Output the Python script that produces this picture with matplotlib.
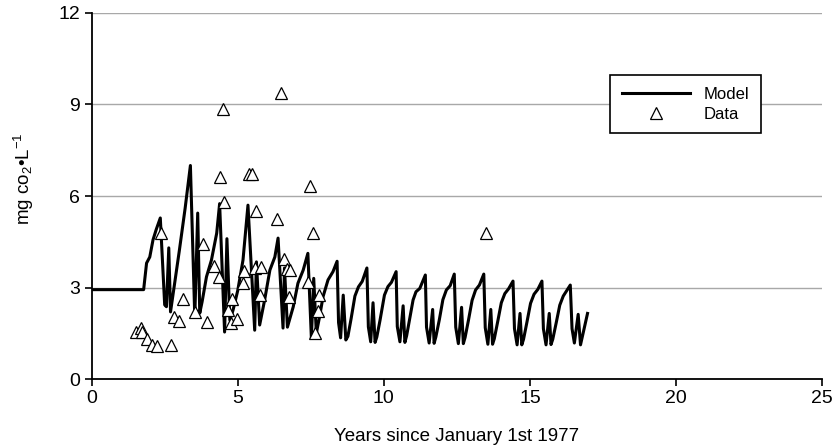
import matplotlib.pyplot as plt

plt.rcParams['font.family']=['Liberation Sans','DejaVu Sans']
plt.rcParams['mathtext.fontset']='custom'
plt.rcParams['mathtext.rm']='Liberation Sans'
plt.rcParams['mathtext.it']='Liberation Sans:italic'

# model curve
model_x=[0,1.78,1.88,1.99,2.10,2.21,2.35,2.44,2.50,2.56,2.64,2.70,3.00,3.20,3.38,3.53,3.63,3.70,3.78,3.93,4.10,4.28,4.38,
	4.55,4.63,4.73,4.84,5.00,5.18,5.35,5.58,5.64,5.75,5.92,6.10,6.27,6.38,6.55,6.60,6.70,6.90,7.06,7.24,7.40,
	7.52,7.60,7.69,7.80,7.92,8.09,8.26,8.40,8.45,8.52,8.61,8.70,8.77,8.88,9.01,9.13,9.26,9.42,
	9.47,9.55,9.63,9.70,9.76,9.87,10.02,10.14,10.26,10.42,10.46,10.55,10.66,10.72,10.78,10.89,11.00,11.10,11.23,11.42,
	11.46,11.55,11.67,11.72,11.78,11.90,12.02,12.14,12.27,12.41,12.46,12.55,12.66,12.72,12.78,12.90,13.02,13.14,13.27,13.42,
	13.47,13.56,13.66,13.72,13.78,13.90,14.02,14.14,14.27,14.42,14.47,14.56,14.66,14.72,14.78,14.90,15.02,15.14,15.27,15.41,
	15.46,15.55,15.66,15.72,15.78,15.90,16.02,16.14,16.26,16.38,16.44,16.52,16.65,16.73,16.97]
model_y=[2.93,2.93,3.80,4.00,4.56,4.90,5.28,3.57,2.43,2.37,4.30,2.20,4.20,5.60,7.00,2.03,5.44,2.16,2.53,3.35,3.90,4.78,5.75,
	1.54,4.60,1.93,2.26,2.90,3.90,5.70,1.60,3.84,1.77,2.59,3.57,4.00,4.62,1.67,3.64,1.70,2.37,3.14,3.57,4.12,
	1.34,3.30,1.50,2.04,2.70,3.25,3.52,3.86,1.85,1.35,2.75,1.28,1.40,1.98,2.72,3.02,3.20,3.64,
	1.71,1.22,2.50,1.20,1.38,1.93,2.75,3.03,3.17,3.52,1.72,1.22,2.40,1.20,1.42,2.00,2.59,2.86,2.97,3.41,
	1.70,1.18,2.28,1.17,1.38,1.95,2.60,2.92,3.06,3.44,1.70,1.16,2.35,1.16,1.36,1.95,2.58,2.92,3.08,3.44,
	1.68,1.14,2.28,1.14,1.32,1.90,2.50,2.80,2.96,3.21,1.65,1.12,2.15,1.12,1.30,1.88,2.48,2.78,2.94,3.21,
	1.65,1.12,2.15,1.13,1.30,1.85,2.42,2.72,2.90,3.08,1.65,1.18,2.12,1.12,2.15]

# measured data
data_x=[1.53,1.70,1.74,1.90,2.08,2.24,2.71,2.36,2.82,2.98,3.13,3.55,3.96,3.81,4.18,4.35,4.53,4.38,4.48,4.65,4.82,4.78,
	4.99,5.21,5.18,5.39,5.49,5.64,5.60,5.81,5.75,6.33,6.47,6.59,6.67,6.80,6.76,7.41,7.46,7.58,7.64,7.75,7.78,13.49]
data_y=[1.55,1.66,1.55,1.30,1.11,1.08,1.11,4.78,2.04,1.91,2.61,2.21,1.88,4.42,3.72,3.35,5.81,6.63,8.84,2.26,2.61,1.85,
	1.96,3.55,3.14,6.72,6.72,5.51,3.63,3.68,2.77,5.25,9.37,3.92,3.61,3.57,2.70,3.18,6.33,4.78,1.52,2.24,2.75,4.78]

fig=plt.figure(figsize=(8.33,4.48),dpi=100)
ax=fig.add_axes([0.110,0.154,0.877,0.817])

ax.plot(model_x,model_y,color='black',lw=2.2,label='Model',zorder=3)
ax.plot(data_x,data_y,ls='none',marker='^',ms=9,mfc='white',mec='black',mew=0.9,label='Data',zorder=4)

ax.set_xlim(0,25)
ax.set_ylim(0,12)
ax.set_xticks([0,5,10,15,20,25])
ax.set_yticks([0,3,6,9,12])
ax.grid(axis='y',color='#a8a8a8',lw=1)
ax.set_axisbelow(True)
for s in ['top','right']:
	ax.spines[s].set_visible(False)
for s in ['left','bottom']:
	ax.spines[s].set_linewidth(1.3)
ax.tick_params(direction='out',length=5,width=1.2,labelsize=14,colors='black')
ax.tick_params(axis='x',pad=3)

ax.set_xlabel('Years since January 1st 1977',fontsize=13.5,labelpad=15)
ax.set_ylabel(r'mg co$_{\mathrm{2}}$•L$^{\mathrm{-1}}$',fontsize=13.5)
ax.yaxis.set_label_coords(-0.076,0.546)

leg=ax.legend(loc='upper right',bbox_to_anchor=(0.916,0.831),borderaxespad=0,fontsize=12,
	frameon=True,fancybox=False,edgecolor='black',framealpha=1,handlelength=4.1,handletextpad=0.8,
	labelspacing=0.3,borderpad=0.7)
leg.get_frame().set_linewidth(1.2)

fig.savefig('out.png',dpi=100)
